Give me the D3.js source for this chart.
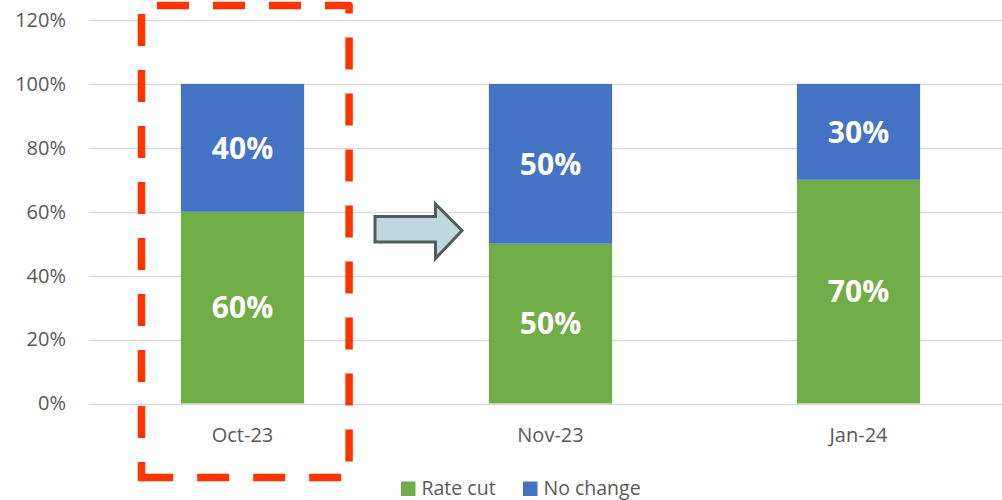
<!DOCTYPE html>
<html>
<head>
<meta charset="utf-8">
<script src="https://cdn.jsdelivr.net/npm/d3@7"></script>
<style>
  html, body { margin: 0; padding: 0; background: #fff; }
  svg { display: block; font-family: "Open Sans", sans-serif; }
</style>
</head>
<body>
<svg id="chart" width="1002" height="500"></svg>
<script>
// Survey of expected policy decisions per meeting
const categories = ["Oct-23", "Nov-23", "Jan-24"];
const rateCut   = [0.60, 0.50, 0.70];
const noChange  = [0.40, 0.50, 0.30];
const seriesNames  = ["Rate cut", "No change"];
const seriesColors = ["#70ad47", "#4472c4"];
const yTickValues  = [0, 0.2, 0.4, 0.6, 0.8, 1.0, 1.2];

const svg = d3.select("#chart");
const W = 1002, H = 500;

const x = d3.scaleBand()
  .domain(categories)
  .range([88.5, 1012.5])
  .paddingInner(0.6)
  .paddingOuter(0.3);

const y = d3.scaleLinear()
  .domain([0, 1.2])
  .range([403.5, 20]);

const fmtPct = d3.format(".0%");

// horizontal gridlines
svg.append("g")
  .selectAll("line")
  .data(yTickValues)
  .join("line")
  .attr("x1", 89)
  .attr("x2", W)
  .attr("y1", d => Math.round(y(d)) + 0.5)
  .attr("y2", d => Math.round(y(d)) + 0.5)
  .attr("stroke", "#d9d9d9")
  .attr("stroke-width", 1.3);

// y axis labels
const yAxis = d3.axisLeft(y).tickValues(yTickValues).tickFormat(fmtPct).tickSize(0).tickPadding(0);
const gy = svg.append("g").attr("transform", "translate(66,0)").call(yAxis);
gy.select(".domain").remove();
gy.selectAll("text")
  .attr("fill", "#595959")
  .style("font-size", "20px")
  .style("font-family", "'Open Sans', sans-serif");

// x axis labels
const xAxis = d3.axisBottom(x).tickSize(0).tickPadding(0);
const gx = svg.append("g").attr("transform", "translate(0,403.5)").call(xAxis);
gx.select(".domain").remove();
gx.selectAll("text")
  .attr("fill", "#595959")
  .attr("dy", "38px")
  .style("font-size", "20px")
  .style("font-family", "'Open Sans', sans-serif");

// stacked bars
const rows = categories.map((c, i) => ({ cat: c, "Rate cut": rateCut[i], "No change": noChange[i] }));
const stack = d3.stack().keys(seriesNames)(rows);

const layers = svg.append("g")
  .selectAll("g")
  .data(stack)
  .join("g")
  .attr("fill", (d, i) => seriesColors[i]);

layers.selectAll("rect")
  .data(d => d)
  .join("rect")
  .attr("x", d => x(d.data.cat))
  .attr("width", x.bandwidth())
  .attr("y", d => y(d[1]))
  .attr("height", d => y(d[0]) - y(d[1]));

// value labels
layers.selectAll("text")
  .data(d => d)
  .join("text")
  .attr("x", d => x(d.data.cat) + x.bandwidth() / 2)
  .attr("y", d => (y(d[0]) + y(d[1])) / 2)
  .attr("dy", "0.36em")
  .attr("text-anchor", "middle")
  .attr("fill", "#ffffff")
  .style("font-size", "30px")
  .style("font-weight", "bold")
  .text(d => fmtPct(d[1] - d[0]));

// dashed highlight around the first meeting
const bx0 = x(categories[0]) - 39.4;
const bx1 = x(categories[0]) + x.bandwidth() + 45;
const by0 = 5.5, by1 = 477.5;
const box = svg.append("g")
  .attr("fill", "none")
  .attr("stroke", "#ff3300")
  .attr("stroke-width", 7.5)
  .attr("stroke-dasharray", "32 24");
box.append("path")
  .attr("d", `M${bx0},${by0} H${bx1} V${by1} H${bx0}`)
  .attr("stroke-dashoffset", 40.5)
  .attr("stroke-linejoin", "round");
box.append("path")
  .attr("d", `M${bx0},${by0} V${by1 + 3.7}`)
  .attr("stroke-dashoffset", 47.5);

// arrow between first and second meeting
const ax0 = 375, ax1 = 435.5, axTip = 462;
const ayMid = 230.5;
svg.append("path")
  .attr("d", `M${ax0},216.5 H${ax1} V204 L${axTip},${ayMid} L${ax1},258.5 V242 H${ax0} Z`)
  .attr("fill", "#bfd8dd")
  .attr("stroke", "#4e5c5c")
  .attr("stroke-width", 3)
  .attr("stroke-linejoin", "miter");

// legend
const legendX = [401, 523];
const legend = svg.append("g");
seriesNames.forEach((name, i) => {
  legend.append("rect")
    .attr("x", legendX[i])
    .attr("y", 481.5)
    .attr("width", 14.5)
    .attr("height", 14.5)
    .attr("fill", seriesColors[i]);
  legend.append("text")
    .attr("x", legendX[i] + 20.5)
    .attr("y", 495)
    .attr("fill", "#595959")
    .style("font-size", "19.5px")
    .text(name);
});
</script>
</body>
</html>
